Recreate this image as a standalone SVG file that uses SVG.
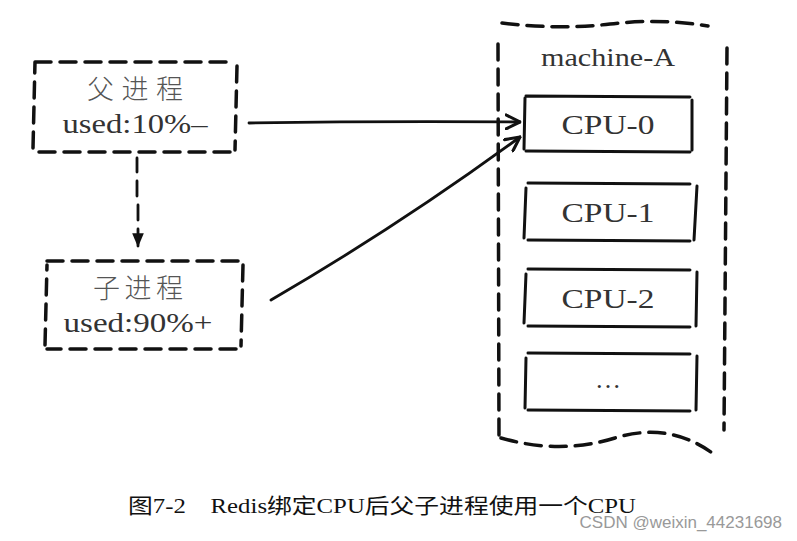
<svg xmlns="http://www.w3.org/2000/svg" width="797" height="541" viewBox="0 0 797 541">
<defs>
<style>
.dash{fill:none;stroke:#111;stroke-width:3.5;stroke-dasharray:16 9;stroke-linecap:round}
.cpu{fill:none;stroke:#111;stroke-width:3;stroke-linecap:round}
.ln{fill:none;stroke:#111;stroke-width:2.8;stroke-linecap:round}
.t{font-family:"Liberation Serif","Noto Sans CJK SC",serif;fill:#333;text-anchor:middle}
.cn{font-family:"Noto Sans CJK SC","Liberation Serif",serif;fill:#555;text-anchor:middle;font-weight:300}
</style>
<marker id="ah" viewBox="0 0 12 12" refX="11" refY="6" markerWidth="6" markerHeight="6" orient="auto" markerUnits="strokeWidth">
<path d="M1,1 L11,6 L1,11" fill="none" stroke="#111" stroke-width="2.2" stroke-linecap="round"/>
</marker>
<marker id="ahf" viewBox="0 0 12 12" refX="11" refY="6" markerWidth="5" markerHeight="5" orient="auto" markerUnits="strokeWidth">
<path d="M0,1 L12,6 L0,11 Z" fill="#111"/>
</marker>
</defs>
<rect width="797" height="541" fill="#fff"/>

<g id="parent">
<path class="dash" d="M35,62 L232,62 M237,66 L235,150 M230,152 L35,152 M33,148 L35,62"/>
<text class="cn" x="135" y="99" font-size="27" textLength="96" lengthAdjust="spacing">父进程</text>
<text class="t" x="135" y="133" font-size="27" textLength="145" lengthAdjust="spacingAndGlyphs">used:10%–</text>
</g>

<g id="child">
<path class="dash" d="M47,261 L238,261 M243,265 L241,346 M236,349 L47,349 M45,345 L47,265"/>
<text class="cn" x="138" y="298" font-size="27" textLength="90" lengthAdjust="spacing">子进程</text>
<text class="t" x="138" y="332" font-size="27" textLength="149" lengthAdjust="spacingAndGlyphs">used:90%+</text>
</g>

<g id="machine-A">
<path class="dash" d="M502,23 Q560,30 610,24 T708,26 M498,44 L499,440 M727,48 L724,430 M501,438 Q560,455 615,438 T715,455"/>
<text class="t" x="608" y="66" font-size="26" textLength="134" lengthAdjust="spacingAndGlyphs">machine-A</text>
</g>

<g id="cpu0">
<path class="cpu" d="M526,96 L690,97 M692,100 L692,150 M690,152 L526,151 M524,149 L525,98"/>
<text class="t" x="608" y="134" font-size="28" textLength="93" lengthAdjust="spacingAndGlyphs">CPU-0</text>
</g>
<g id="cpu1">
<path class="cpu" d="M528,183 L690,184 M697,186 L694,240 M690,241 L528,240 M524,238 L526,188"/>
<text class="t" x="608" y="222" font-size="28" textLength="93" lengthAdjust="spacingAndGlyphs">CPU-1</text>
</g>
<g id="cpu2">
<path class="cpu" d="M528,269 L690,270 M697,272 L696,326 M690,327 L528,326 M524,323 L526,274"/>
<text class="t" x="608" y="308" font-size="28" textLength="93" lengthAdjust="spacingAndGlyphs">CPU-2</text>
</g>
<g id="cpu-more">
<path class="cpu" d="M528,353 L690,354 M697,356 L696,410 M690,411 L528,410 M525,408 L526,358"/>
<text class="t" x="608" y="388" font-size="26">…</text>
</g>

<g id="connectors">
<path class="ln" d="M137,158 L137,172 M137,181 L137,196 M138,205 L138,220 M138,229 L138,246" marker-end="url(#ahf)"/>
<path class="ln" d="M249,123 Q380,121 520,122" marker-end="url(#ah)"/>
<path class="ln" d="M271,300 Q400,225 520,137" marker-end="url(#ah)"/>
</g>

<text x="128" y="513" font-family="'Liberation Serif','Noto Sans CJK SC',serif" font-size="21" fill="#111" textLength="508" lengthAdjust="spacingAndGlyphs">图7-2　Redis绑定CPU后父子进程使用一个CPU</text>
<text x="782" y="528" text-anchor="end" font-family="'Liberation Sans',sans-serif" font-size="17" fill="#999">CSDN @weixin_44231698</text>
</svg>
